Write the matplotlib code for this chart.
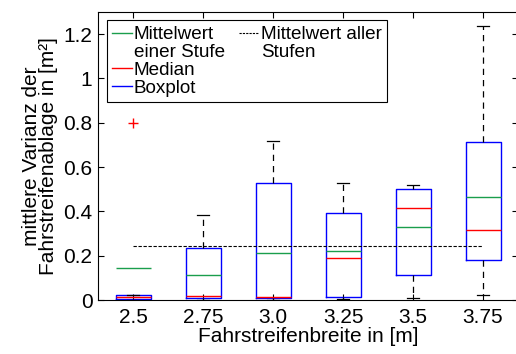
import numpy as np
import matplotlib
matplotlib.use("Agg")
import matplotlib.pyplot as plt
from matplotlib.lines import Line2D

plt.rcParams['font.family'] = ['Liberation Sans', 'DejaVu Sans']

# data
breiten = ['2.5', '2.75', '3.0', '3.25', '3.5', '3.75']
q1 = [0.006, 0.008, 0.008, 0.012, 0.111, 0.180]
q3 = [0.023, 0.233, 0.529, 0.394, 0.499, 0.711]
median = [0.012, 0.019, 0.013, 0.188, 0.414, 0.316]
whis_lo = [0.0, 0.0, 0.0, 0.004, 0.010, 0.024]
whis_hi = [0.023, 0.383, 0.716, 0.529, 0.519, 1.238]
mittelwert = [0.143, 0.111, 0.213, 0.221, 0.328, 0.463]
ausreisser = [[0.80], [], [], [], [], []]
mittel_alle = 0.245

gruen = '#1a9e4c'
fs = 15
fs_leg = 13.6

stats = []
for i in range(len(breiten)):
    stats.append(dict(med=median[i], q1=q1[i], q3=q3[i],
                      whislo=whis_lo[i], whishi=whis_hi[i],
                      fliers=ausreisser[i], label=breiten[i]))

pos = np.arange(1, len(breiten) + 1)

fig = plt.figure(figsize=(5.16, 3.54), dpi=100)
ax = fig.add_axes([98/516, 54/354, 420/516, 288/354])

ax.bxp(stats, positions=pos, widths=0.5, capwidths=0.18,
       boxprops=dict(color='blue', linewidth=1),
       medianprops=dict(color='red', linewidth=1),
       whiskerprops=dict(color='black', linestyle=(0, (5, 4)), linewidth=0.9),
       capprops=dict(color='black', linewidth=0.9),
       flierprops=dict(marker='+', markeredgecolor='red', markersize=7,
                       linestyle='none'))

# mean of each level
ax.hlines(mittelwert, pos - 0.25, pos + 0.25, colors=gruen, linewidth=1)
# mean of all levels
ax.hlines(mittel_alle, pos[0], pos[-1], colors='black',
          linestyles=(0, (3, 1.5)), linewidth=0.8)

ax.set_xlim(0.5, 6.5)
ax.set_ylim(0, 1.3)
ax.set_xticks(pos)
ax.set_xticklabels(breiten)
ax.set_yticks([0, 0.2, 0.4, 0.6, 0.8, 1, 1.2])
ax.set_yticklabels(['0', '0.2', '0.4', '0.6', '0.8', '1', '1.2'])
ax.tick_params(direction='in', top=True, right=True, labelsize=fs,
               length=4, width=0.8)
ax.tick_params(axis='x', pad=6)
ax.tick_params(axis='y', pad=4)
ax.set_xlabel('Fahrstreifenbreite in [m]', fontsize=fs, labelpad=0)
ax.set_ylabel('mittlere Varianz der\nFahrstreifenablage in [m²]',
              fontsize=fs, labelpad=4, linespacing=0.85)

# MATLAB puts the handle on the first line, so split the labels
leer = Line2D([], [], color='none')
handles = [Line2D([], [], color=gruen, lw=1), leer,
           Line2D([], [], color='red', lw=1),
           Line2D([], [], color='blue', lw=1),
           Line2D([], [], color='black', lw=0.8, ls=(0, (2, 1))),
           leer, leer, leer]
labels = ['Mittelwert', 'einer Stufe', 'Median', 'Boxplot',
          'Mittelwert aller', 'Stufen', ' ', ' ']
leg = ax.legend(handles, labels, ncol=2, loc='upper left', fontsize=fs_leg,
                handlelength=1.05, handletextpad=0.1, columnspacing=0.75,
                labelspacing=0.03, borderpad=0.3, fancybox=False,
                edgecolor='black', framealpha=1, borderaxespad=0.45)
leg.get_frame().set_linewidth(0.8)

fig.savefig('out.png', dpi=100)
